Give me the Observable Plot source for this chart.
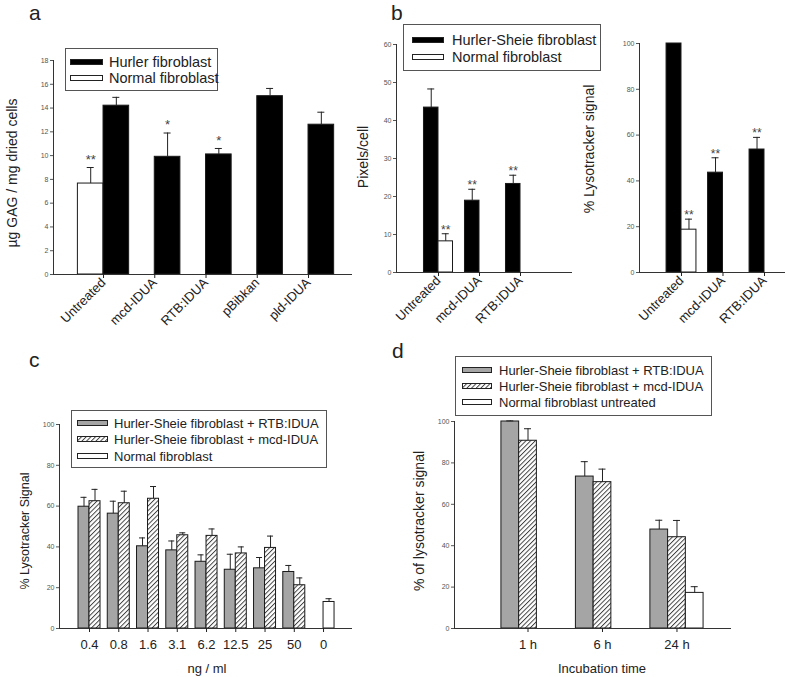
<!DOCTYPE html>
<html><head><meta charset="utf-8">
<script src="https://cdn.jsdelivr.net/npm/d3@7"></script>
<script src="https://cdn.jsdelivr.net/npm/@observablehq/plot@0.6"></script>
<style>
body{margin:0;background:#fff;}
#root{position:relative;width:787px;height:677px;overflow:hidden;background:#fff;font-family:"Liberation Sans",Arial,sans-serif;color:#222;}
.lab{position:absolute;white-space:nowrap;line-height:1;}
.box{position:absolute;border:1px solid #555;background:#fff;box-sizing:border-box;}
</style></head><body>
<div id="root">
<svg width="0" height="0" style="position:absolute"><defs>
<pattern id="hatch" patternUnits="userSpaceOnUse" width="3.3" height="3.3" patternTransform="rotate(45)">
<rect width="3.3" height="3.3" fill="#fff"/><line x1="0.5" y1="0" x2="0.5" y2="3.3" stroke="#333" stroke-width="0.9"/>
</pattern></defs></svg>
</div>
<script>
// ---------- Panel a ----------
const catsA = ["Untreated", "mcd-IDUA", "RTB:IDUA", "pBibkan", "pld-IDUA"];
const seriesA = ["Hurler fibroblast", "Normal fibroblast"];
const hurlerA = [14.2, 9.9, 10.1, 15.0, 12.6];
const hurlerErrA = [0.7, 2.0, 0.5, 0.65, 1.05];
const hurlerSigA = ["", "*", "*", "", ""];
const normalA = [7.65, null, null, null, null];
const normalErrA = [1.35, null, null, null, null];
const normalSigA = ["**", "", "", "", ""];
const yTicksA = [0, 2, 4, 6, 8, 10, 12, 14, 16, 18];

// ---------- Panel b (left: pixels/cell) ----------
const catsB = ["Untreated", "mcd-IDUA", "RTB:IDUA"];
const seriesB = ["Hurler-Sheie fibroblast", "Normal fibroblast"];
const hurlerB1 = [43.4, 18.9, 23.3];
const hurlerErrB1 = [4.9, 3.0, 2.3];
const hurlerSigB1 = ["", "**", "**"];
const normalB1 = [8.2, null, null];
const normalErrB1 = [2.0, null, null];
const normalSigB1 = ["**", "", ""];
const yTicksB1 = [0, 10, 20, 30, 40, 50, 60];

// ---------- Panel b (right: % lysotracker) ----------
const hurlerB2 = [100, 43.6, 53.7];
const hurlerErrB2 = [0, 6.5, 5.3];
const hurlerSigB2 = ["", "**", "**"];
const normalB2 = [18.7, null, null];
const normalErrB2 = [4.6, null, null];
const normalSigB2 = ["**", "", ""];
const yTicksB2 = [0, 20, 40, 60, 80, 100];

// ---------- Panel c ----------
const catsC = ["0.4", "0.8", "1.6", "3.1", "6.2", "12.5", "25", "50", "0"];
const seriesC = ["Hurler-Sheie fibroblast + RTB:IDUA", "Hurler-Sheie fibroblast + mcd-IDUA", "Normal fibroblast"];
const rtbC = [59.7, 56.3, 40.3, 38.3, 32.7, 28.8, 29.5, 27.7, null];
const rtbErrC = [4.6, 6.1, 4.1, 4.6, 3.4, 7.6, 5.3, 3.2, null];
const mcdC = [62.4, 61.4, 63.6, 45.7, 45.4, 36.8, 39.5, 21.2, null];
const mcdErrC = [5.8, 5.9, 6.0, 1.2, 3.4, 3.2, 5.8, 3.6, null];
const normalC = [null, null, null, null, null, null, null, null, 13.0];
const normalErrC = [null, null, null, null, null, null, null, null, 1.6];
const yTicksC = [0, 20, 40, 60, 80, 100];

// ---------- Panel d ----------
const catsD = ["1 h", "6 h", "24 h"];
const seriesD = ["Hurler-Sheie fibroblast + RTB:IDUA", "Hurler-Sheie fibroblast + mcd-IDUA", "Normal fibroblast untreated"];
const rtbD = [100, 73.4, 47.8];
const rtbErrD = [0.3, 7.2, 4.5];
const mcdD = [90.7, 70.7, 44.1];
const mcdErrD = [5.8, 6.3, 8.1];
const normalD = [null, null, 17.2];
const normalErrD = [null, null, 3.0];
const yTicksD = [0, 20, 40, 60, 80, 100];

// ---------- helpers ----------
const root = document.getElementById("root");
const FILLS = {black: "#000", white: "#fff", gray: "#a5a5a5", hatch: "url(#hatch)"};

function buildBars(cats, list) {
  const out = [];
  cats.forEach((c, i) => {
    for (const s of list) {
      if (s.values[i] == null) continue;
      out.push({i, key: s.key, type: s.type, v: s.values[i], e: s.errs[i] || 0, sig: s.sigs ? s.sigs[i] : ""});
    }
  });
  return out;
}

function panel({bars, slots, cats, xDomain, yDomain, yTicks, margin, rotate, xFont, capPx, starDy, starSize}) {
  const fw = 787 - margin.left - margin.right;
  const upx = (xDomain[1] - xDomain[0]) / fw;
  const cap = capPx * upx;
  const recs = bars.map(b => {
    const x1 = b.i + slots[b.key][0], x2 = b.i + slots[b.key][1];
    return {...b, x1, x2, cx: (x1 + x2) / 2, top: b.v + b.e};
  });
  const marks = [];
  for (const key of Object.keys(slots)) {
    const sub = recs.filter(r => r.key === key);
    if (!sub.length) continue;
    marks.push(Plot.rect(sub, {x1: "x1", x2: "x2", y1: 0, y2: "v", fill: FILLS[sub[0].type], stroke: "#1a1a1a", strokeWidth: 1}));
  }
  const eb = recs.filter(r => r.e > 0);
  marks.push(Plot.ruleX(eb, {x: "cx", y1: "v", y2: "top", stroke: "#222", strokeWidth: 1}));
  marks.push(Plot.ruleY(eb, {y: "top", x1: d => d.cx - cap, x2: d => d.cx + cap, stroke: "#222", strokeWidth: 1}));
  const st = recs.filter(r => r.sig);
  if (st.length) marks.push(Plot.text(st, {x: "cx", y: "top", text: "sig", dy: starDy, fontSize: starSize, fill: "#444"}));
  marks.push(Plot.ruleY([yDomain[0]], {stroke: "#333"}));
  marks.push(Plot.ruleX([xDomain[0]], {stroke: "#333"}));
  marks.push(Plot.axisY({ticks: yTicks, tickSize: 3, tickPadding: 2, fontSize: 7, color: "#555", label: null}));
  marks.push(Plot.axisX({ticks: cats.map((c, i) => i), tickFormat: i => cats[i], tickRotate: rotate, tickSize: 4,
    tickPadding: rotate ? 2 : 7, fontSize: xFont, color: "#222", label: null}));
  const svg = Plot.plot({
    width: 787, height: 677,
    marginTop: margin.top, marginRight: margin.right, marginBottom: margin.bottom, marginLeft: margin.left,
    style: {background: "transparent", overflow: "visible", fontFamily: "'Liberation Sans', Arial, sans-serif"},
    x: {type: "linear", domain: xDomain},
    y: {type: "linear", domain: yDomain},
    marks
  });
  svg.style.position = "absolute";
  svg.style.left = "0px";
  svg.style.top = "0px";
  root.appendChild(svg);
}

function text(str, {x, y, size = 13, anchor = "start", rotate = 0, color = "#222", baseline = false}) {
  const d = document.createElement("div");
  d.className = "lab";
  d.textContent = str;
  d.style.fontSize = size + "px";
  d.style.color = color;
  d.style.left = x + "px";
  if (baseline) {
    d.style.top = (y - 0.8465 * size) + "px";
  } else {
    d.style.top = y + "px";
    const tx = anchor === "middle" ? "-50%" : "0";
    d.style.transform = `translate(${anchor === "middle" ? "-50%" : "0"}, -50%)` + (rotate ? ` rotate(${rotate}deg)` : "");
  }
  root.appendChild(d);
}

function ylabel(str, x, y, size) {
  const d = document.createElement("div");
  d.className = "lab";
  d.textContent = str;
  d.style.fontSize = size + "px";
  d.style.left = x + "px";
  d.style.top = y + "px";
  d.style.transform = "translate(-50%, -50%) rotate(-90deg)";
  root.appendChild(d);
}

function legend(box, rows, size, sw, textX) {
  const b = document.createElement("div");
  b.className = "box";
  b.style.left = box[0] + "px"; b.style.top = box[1] + "px";
  b.style.width = (box[2] - box[0]) + "px"; b.style.height = (box[3] - box[1]) + "px";
  root.appendChild(b);
  for (const r of rows) {
    const s = document.createElementNS("http://www.w3.org/2000/svg", "svg");
    s.setAttribute("width", sw.w + 1); s.setAttribute("height", sw.h + 1);
    s.style.position = "absolute";
    s.style.left = (sw.x - 0.5) + "px";
    s.style.top = (r.cy - sw.h / 2 - 0.5) + "px";
    const rc = document.createElementNS("http://www.w3.org/2000/svg", "rect");
    rc.setAttribute("x", 0.5); rc.setAttribute("y", 0.5);
    rc.setAttribute("width", sw.w); rc.setAttribute("height", sw.h);
    rc.setAttribute("fill", FILLS[r.type]); rc.setAttribute("stroke", "#222"); rc.setAttribute("stroke-width", 1);
    s.appendChild(rc);
    root.appendChild(s);
    text(r.name, {x: textX, y: r.cy, size});
  }
}

// ---------- draw panel a ----------
panel({
  bars: buildBars(catsA, [
    {key: "Normal", type: "white", values: normalA, errs: normalErrA, sigs: normalSigA},
    {key: "Hurler", type: "black", values: hurlerA, errs: hurlerErrA, sigs: hurlerSigA}
  ]),
  slots: {Normal: [-0.5, 0], Hurler: [0, 0.5]},
  cats: catsA, xDomain: [-0.976, 4.858], yDomain: [0, 18], yTicks: yTicksA,
  margin: {top: 60, right: 435, bottom: 403, left: 53}, rotate: -45, xFont: 13, capPx: 3.5, starDy: -8, starSize: 13
});
// ---------- panel b left ----------
panel({
  bars: buildBars(catsB, [
    {key: "Hurler", type: "black", values: hurlerB1, errs: hurlerErrB1, sigs: hurlerSigB1},
    {key: "Normal", type: "white", values: normalB1, errs: normalErrB1, sigs: normalSigB1}
  ]),
  slots: {Hurler: [-0.354, 0], Normal: [0, 0.354]},
  cats: catsB, xDomain: [-1.024, 3.268], yDomain: [0, 60], yTicks: yTicksB1,
  margin: {top: 44, right: 215, bottom: 405, left: 396}, rotate: -45, xFont: 13, capPx: 3.5, starDy: -4, starSize: 12
});
// ---------- panel b right ----------
panel({
  bars: buildBars(catsB, [
    {key: "Hurler", type: "black", values: hurlerB2, errs: hurlerErrB2, sigs: hurlerSigB2},
    {key: "Normal", type: "white", values: normalB2, errs: normalErrB2, sigs: normalSigB2}
  ]),
  slots: {Hurler: [-0.36, 0], Normal: [0, 0.36]},
  cats: catsB, xDomain: [-1.012, 2.506], yDomain: [0, 100], yTicks: yTicksB2,
  margin: {top: 43, right: 2, bottom: 405, left: 639}, rotate: -45, xFont: 13, capPx: 3.5, starDy: -4, starSize: 12
});
// ---------- panel c ----------
panel({
  bars: buildBars(catsC, [
    {key: "RTB", type: "gray", values: rtbC, errs: rtbErrC},
    {key: "mcd", type: "hatch", values: mcdC, errs: mcdErrC},
    {key: "Normal", type: "white", values: normalC, errs: normalErrC}
  ]),
  slots: {RTB: [-0.376, 0], mcd: [0, 0.376], Normal: [0, 0.376]},
  cats: catsC, xDomain: [-1.026, 8.99], yDomain: [0, 100], yTicks: yTicksC,
  margin: {top: 424, right: 435, bottom: 49, left: 59}, rotate: 0, xFont: 13, capPx: 3, starDy: -4, starSize: 12
});
// ---------- panel d ----------
panel({
  bars: buildBars(catsD, [
    {key: "RTB", type: "gray", values: rtbD, errs: rtbErrD},
    {key: "mcd", type: "hatch", values: mcdD, errs: mcdErrD},
    {key: "Normal", type: "white", values: normalD, errs: normalErrD}
  ]),
  slots: {RTB: [-0.357, -0.119], mcd: [-0.119, 0.119], Normal: [0.119, 0.357]},
  cats: catsD, xDomain: [-0.987, 2.732], yDomain: [0, 100], yTicks: yTicksD,
  margin: {top: 421, right: 56, bottom: 49, left: 454}, rotate: 0, xFont: 13, capPx: 3.5, starDy: -4, starSize: 12
});

// ---------- panel letters ----------
text("a", {x: 29, y: 20, size: 21, baseline: true});
text("b", {x: 391, y: 20, size: 21, baseline: true});
text("c", {x: 29, y: 367, size: 21, baseline: true});
text("d", {x: 392, y: 358, size: 21, baseline: true});

// ---------- axis titles ----------
ylabel("µg GAG / mg dried cells", 12, 173, 14);
ylabel("Pixels/cell", 363, 157, 14);
ylabel("% Lysotracker signal", 589, 149, 14);
ylabel("% Lysotracker Signal", 25, 531, 12.5);
ylabel("% of lysotracker signal", 419, 521, 14);
text("ng / ml", {x: 207, y: 668, size: 13, anchor: "middle"});
text("Incubation time", {x: 602, y: 668, size: 13, anchor: "middle"});

// ---------- legends ----------
legend([65, 48, 218, 91], [
  {name: seriesA[0], type: "black", cy: 61.5},
  {name: seriesA[1], type: "white", cy: 78}
], 14.5, {x: 70, w: 32, h: 5}, 109);
legend([403, 24, 601, 71], [
  {name: seriesB[0], type: "black", cy: 40},
  {name: seriesB[1], type: "white", cy: 57}
], 14.5, {x: 412, w: 31, h: 5}, 452);
legend([71, 410, 327, 468], [
  {name: seriesC[0], type: "gray", cy: 423},
  {name: seriesC[1], type: "hatch", cy: 439},
  {name: seriesC[2], type: "white", cy: 456}
], 13, {x: 77, w: 30, h: 5}, 114);
legend([455, 356, 712, 416], [
  {name: seriesD[0], type: "gray", cy: 370},
  {name: seriesD[1], type: "hatch", cy: 386},
  {name: seriesD[2], type: "white", cy: 402}
], 13, {x: 462, w: 29, h: 5}, 499);
</script>
</body></html>
